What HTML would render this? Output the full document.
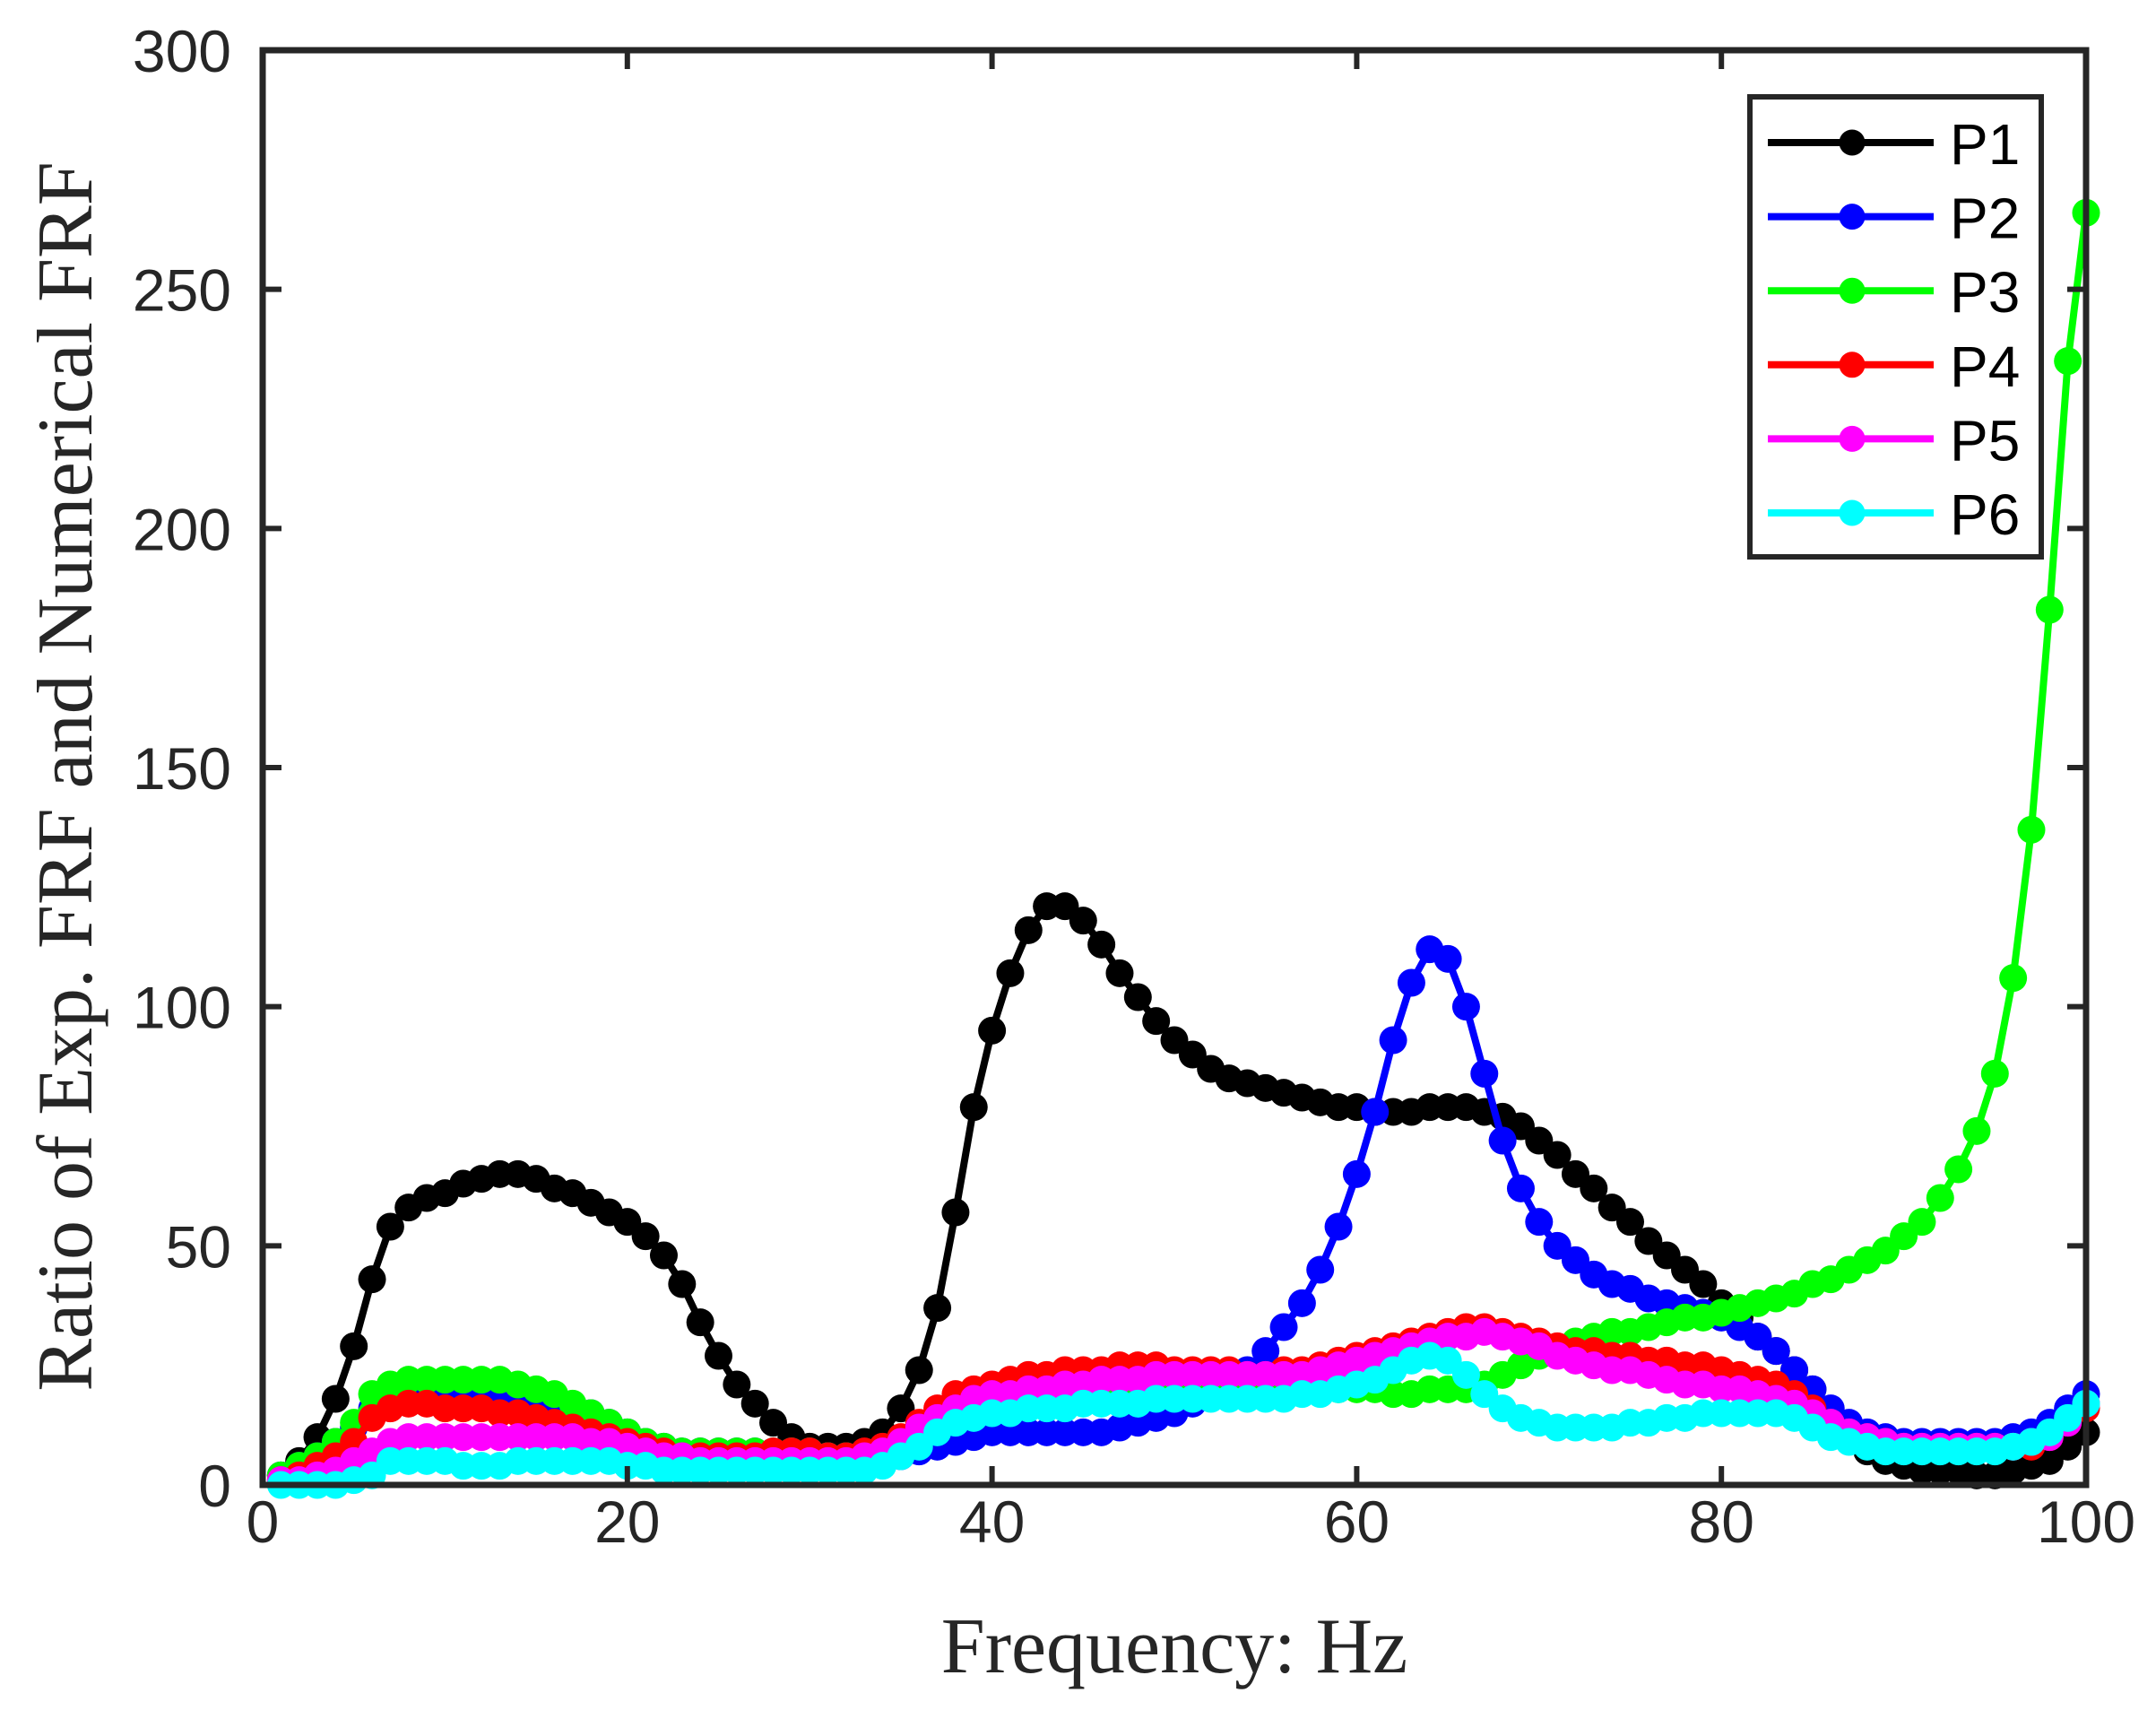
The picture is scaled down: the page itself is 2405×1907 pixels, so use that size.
<!DOCTYPE html>
<html><head><meta charset="utf-8"><style>
html,body{margin:0;padding:0;background:#fff;}
svg{display:block;}
</style></head><body>
<svg id="chart" width="2405" height="1907" viewBox="0 0 2405 1907" xmlns="http://www.w3.org/2000/svg">
<rect width="2405" height="1907" fill="#fff"/>
<g id="series"></g>
<g id="axes"></g>
<g id="legend"></g>
</svg>
<script>
const xTicks = [0, 20, 40, 60, 80, 100];
const yTicks = [0, 50, 100, 150, 200, 250, 300];
const seriesNames = ["P1", "P2", "P3", "P4", "P5", "P6"];
const seriesColors = ["#000000", "#0000ff", "#00ff00", "#ff0000", "#ff00ff", "#00ffff"];
const p1 = [2,5,10,18,29,43,54,58,60,61,63,64,65,65,64,62,61,59,57,55,52,48,42,34,27,21,17,13,10,8,8,8,9,11,16,24,37,57,79,95,107,116,121,121,118,113,107,102,97,93,90,87,85,84,83,82,81,80,79,79,78,78,78,79,79,79,78,77,75,72,69,65,62,58,55,51,48,45,42,38,35,31,28,24,20,15,10,7,5,4,3,3,3,2,2,3,4,5,8,11];
const p2 = [2,4,6,9,12,16,18,19,19,19,19,19,19,18,18,17,16,15,13,11,9,8,7,7,7,7,7,7,7,7,6,6,6,6,6,7,8,9,10,11,11,11,11,11,11,11,12,13,14,15,17,19,21,24,28,33,38,45,54,65,78,93,105,112,110,100,86,72,62,55,50,47,44,42,41,39,38,37,36,35,33,31,28,24,20,16,13,11,10,9,9,9,9,9,9,10,11,13,16,19];
const p3 = [2,4,6,9,13,19,21,22,22,22,22,22,22,21,20,19,17,15,13,11,9,8,7,7,7,7,7,7,7,7,6,6,6,7,9,12,15,17,18,18,19,19,19,19,20,20,20,20,20,20,20,20,20,20,20,20,20,20,20,20,20,19,19,20,20,20,21,23,25,27,28,30,31,32,32,33,34,35,35,36,37,38,39,40,42,43,45,47,49,52,55,60,66,74,86,106,137,183,235,266];
const p4 = [1,2,4,6,9,14,16,17,17,16,16,16,15,15,14,13,12,11,10,9,8,7,6,6,6,6,6,7,7,7,6,6,7,8,10,13,16,19,20,21,22,23,23,24,24,24,25,25,25,24,24,24,24,23,23,24,24,25,26,27,28,29,30,31,32,33,33,32,31,30,29,28,28,27,27,26,26,25,25,24,23,22,21,19,16,13,11,10,9,8,8,8,8,8,8,8,8,10,13,16];
const p5 = [1,1,2,3,5,7,9,10,10,10,10,10,10,10,10,10,10,9,9,8,7,6,6,5,5,5,5,5,5,5,5,5,6,7,9,12,14,16,18,19,19,20,20,21,21,22,22,22,23,23,23,23,23,23,23,23,23,24,25,26,27,28,29,30,31,31,32,31,30,29,27,26,25,24,24,23,22,21,21,20,20,19,18,17,15,13,11,10,9,8,8,8,8,8,8,8,9,10,13,17];
const p6 = [0,0,0,0,1,2,5,5,5,5,4,4,4,5,5,5,5,5,5,4,4,3,3,3,3,3,3,3,3,3,3,3,3,4,6,8,11,13,14,15,15,16,16,16,17,17,17,17,18,18,18,18,18,18,18,18,19,19,20,21,22,24,26,27,26,23,19,16,14,13,12,12,12,12,13,13,14,14,15,15,15,15,15,14,12,10,9,8,7,7,7,7,7,7,7,8,9,11,14,17];
const seriesData = [p1, p2, p3, p4, p5, p6];

const NS = "http://www.w3.org/2000/svg";
const L = 293, R = 2327, T = 56, B = 1656;
const xMin = 0, xMax = 100, yMin = 0, yMax = 300;
function sx(v){ return L + (v - xMin) / (xMax - xMin) * (R - L); }
function sy(v){ return B - (v - yMin) / (yMax - yMin) * (B - T); }
function mk(tag, attrs, parent){
  const el = document.createElementNS(NS, tag);
  for (const k in attrs) el.setAttribute(k, attrs[k]);
  parent.appendChild(el);
  return el;
}
const axisColor = "#262626";
const sG = document.getElementById("series");
const aG = document.getElementById("axes");
const lG = document.getElementById("legend");

seriesData.forEach((arr, si) => {
  const g = mk("g", {}, sG);
  
  
  const pts = arr.map((v, i) => sx(i + 1).toFixed(1) + "," + sy(v).toFixed(1)).join(" ");
  const line = mk("polyline", {points: pts, fill: "none", stroke: seriesColors[si], "stroke-width": 8, "stroke-linejoin": "round"}, g);
  
  
  arr.forEach((v, i) => {
    const c = mk("circle", {cx: sx(i + 1), cy: sy(v), r: 15.5, fill: seriesColors[si]}, g);
    
    
  });
});

const box = mk("rect", {x: L, y: T, width: R - L, height: B - T, fill: "none", stroke: axisColor, "stroke-width": 7}, aG);


const tl = 21;
xTicks.forEach(t => {
  const x = sx(t);
  mk("line", {x1: x, y1: B, x2: x, y2: B - tl, stroke: axisColor, "stroke-width": 6}, aG);
  mk("line", {x1: x, y1: T, x2: x, y2: T + tl, stroke: axisColor, "stroke-width": 6}, aG);
  const tx = mk("text", {x: x, y: B + 64, "text-anchor": "middle", "font-family": "Liberation Sans, sans-serif", "font-size": 66, fill: axisColor}, aG);
  tx.textContent = t;
  
  
});
yTicks.forEach(t => {
  const y = sy(t);
  mk("line", {x1: L, y1: y, x2: L + tl, y2: y, stroke: axisColor, "stroke-width": 6}, aG);
  mk("line", {x1: R, y1: y, x2: R - tl, y2: y, stroke: axisColor, "stroke-width": 6}, aG);
  const tx = mk("text", {x: 258, y: y + 24, "text-anchor": "end", "font-family": "Liberation Sans, sans-serif", "font-size": 66, fill: axisColor}, aG);
  tx.textContent = t;
  
  
});
const xt = mk("text", {x: 1310, y: 1865, "text-anchor": "middle", "font-family": "Liberation Serif, serif", "font-size": 88, fill: axisColor}, aG);
xt.textContent = "Frequency: Hz";


const yt = mk("text", {x: 0, y: 0, "text-anchor": "middle", "font-family": "Liberation Serif, serif", "font-size": 88, fill: axisColor, transform: "translate(102,866) rotate(-90)"}, aG);
yt.textContent = "Ratio of Exp. FRF and Numerical FRF";



const lb = mk("rect", {x: 1952, y: 108, width: 325, height: 513, fill: "#fff", stroke: axisColor, "stroke-width": 6}, lG);


seriesNames.forEach((n, i) => {
  const y = 159 + i * 82.6;
  const g = mk("g", {}, lG);
  
  
  mk("line", {x1: 1972, y1: y, x2: 2157, y2: y, stroke: seriesColors[i], "stroke-width": 8}, g);
  mk("circle", {cx: 2066, cy: y, r: 14.5, fill: seriesColors[i]}, g);
  const t = mk("text", {x: 2175, y: y + 24, "font-family": "Liberation Sans, sans-serif", "font-size": 64, fill: "#000"}, g);
  t.textContent = n;
});
</script>
</body></html>
